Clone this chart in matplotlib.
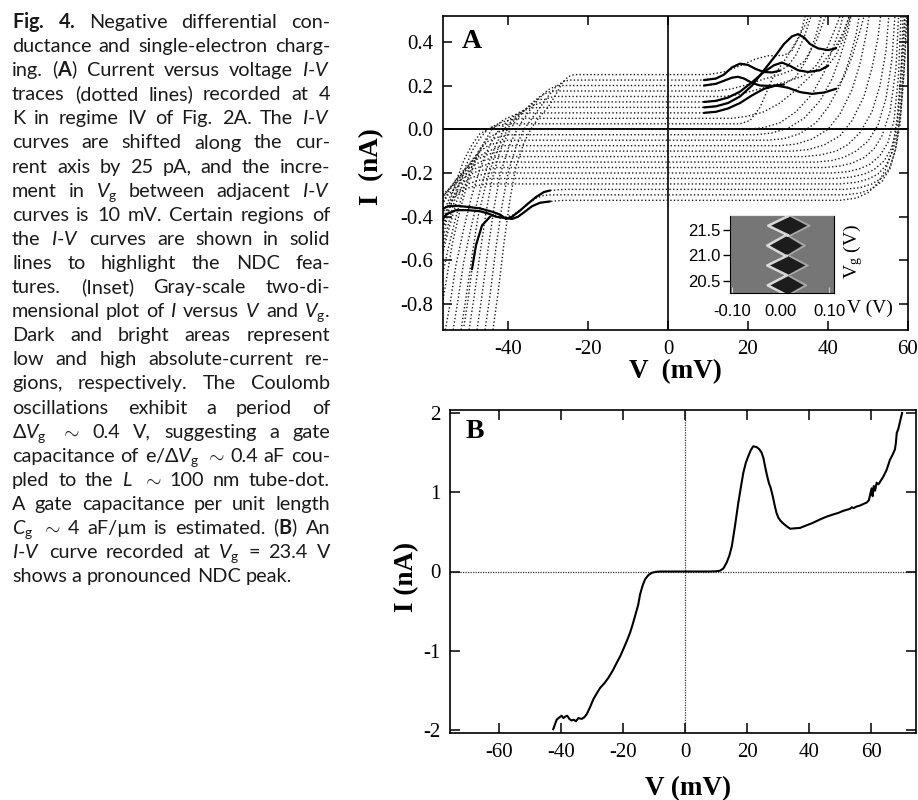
import matplotlib
matplotlib.use("Agg")
import matplotlib.pyplot as plt
from matplotlib.patches import Polygon

W, H = 918, 800

plt.rcParams['font.family'] = ['Lato', 'DejaVu Sans']
plt.rcParams['mathtext.fontset'] = 'custom'
plt.rcParams['mathtext.rm'] = 'Lato'
plt.rcParams['mathtext.it'] = 'Lato:italic'
plt.rcParams['mathtext.bf'] = 'Lato:bold'
plt.rcParams['mathtext.sf'] = 'Liberation Serif'

SERIF = 'Liberation Serif'

# ---------------- caption ----------------
# words are split on single spaces, so the math parts contain no spaces
caption_lines = [
    r"$\mathbf{Fig.}$ $\mathbf{4.}$ Negative differential con-",
    r"ductance and single-electron charg-",
    r"ing. ($\mathbf{A}$) Current versus voltage $I$-$V$",
    r"traces (dotted lines) recorded at 4",
    r"K in regime IV of Fig. 2A. The $I$-$V$",
    r"curves are shifted along the cur-",
    r"rent axis by 25 pA, and the incre-",
    r"ment in $V_{\mathrm{g}}$ between adjacent $I$-$V$",
    r"curves is 10 mV. Certain regions of",
    r"the $I$-$V$ curves are shown in solid",
    r"lines to highlight the NDC fea-",
    r"tures. (Inset) Gray-scale two-di-",
    r"mensional plot of $I$ versus $V$ and $V_{\mathrm{g}}$.",
    r"Dark and bright areas represent",
    r"low and high absolute-current re-",
    r"gions, respectively. The Coulomb",
    r"oscillations exhibit a period of",
    r"$\Delta{V}_{\mathrm{g}}$ $\sim$ 0.4 V, suggesting a gate",
    r"capacitance of e/$\Delta{V}_{\mathrm{g}}$ $\sim$ 0.4 aF cou-",
    r"pled to the $L$ $\sim$ 100 nm tube-dot.",
    r"A gate capacitance per unit length",
    r"$C_{\mathrm{g}}$ $\sim$ 4 aF/µm is estimated. ($\mathbf{B}$) An",
    r"$I$-$V$ curve recorded at $V_{\mathrm{g}}$ = 23.4 V",
    r"shows a pronounced NDC peak.",
]

# ---------------- panel A: I-V traces (offset by 25 pA) ----------------
a_offsets = [0.25, 0.225, 0.2, 0.175, 0.15, 0.125, 0.1, 0.075, 0.05, 0.025,
             0.0, -0.025, -0.05, -0.075, -0.1, -0.125, -0.15, -0.175, -0.2,
             -0.225, -0.25, -0.275, -0.3, -0.325]

# (V, I) points left of the blockade plateau, ending at the plateau knee
a_left = [
    [(-44, -0.95), (-42.5, -0.75), (-41, -0.52), (-39.5, -0.32), (-38, -0.17), (-36, -0.06), (-34, 0.01), (-32, 0.06), (-30, 0.1), (-28, 0.16), (-26.5, 0.21), (-25, 0.24), (-23.5, 0.25)],
    [(-46, -0.95), (-44.5, -0.76), (-43, -0.54), (-41.5, -0.35), (-40, -0.2), (-38, -0.08), (-36, 0.0), (-34, 0.05), (-32, 0.1), (-30, 0.15), (-28, 0.195), (-26, 0.22), (-24.5, 0.225)],
    [(-48, -0.95), (-46.5, -0.76), (-45, -0.55), (-43.5, -0.36), (-42, -0.21), (-40, -0.09), (-38, -0.01), (-36, 0.05), (-34, 0.1), (-32, 0.145), (-30, 0.18), (-28, 0.198), (-26, 0.2)],
    [(-50, -0.95), (-48.5, -0.77), (-47, -0.57), (-45.5, -0.38), (-44, -0.23), (-42, -0.1), (-40, -0.02), (-38, 0.04), (-36, 0.085), (-34, 0.12), (-32, 0.15), (-30, 0.17), (-28, 0.175)],
    [(-52, -0.95), (-50.5, -0.77), (-49, -0.58), (-47.5, -0.4), (-45.5, -0.25), (-43.5, -0.13), (-41.5, -0.05), (-39.5, 0.02), (-37, 0.07), (-34, 0.115), (-32.5, 0.138), (-31, 0.135), (-29.5, 0.145), (-28.5, 0.15)],
    [(-54, -0.95), (-52.5, -0.78), (-51, -0.6), (-49, -0.43), (-47, -0.28), (-45, -0.16), (-43, -0.07), (-41, 0.0), (-38, 0.06), (-35, 0.1), (-32, 0.12), (-30, 0.125)],
    [(-56, -0.95), (-54.5, -0.8), (-53, -0.62), (-51, -0.45), (-49, -0.3), (-47, -0.18), (-45, -0.09), (-43, -0.02), (-40, 0.04), (-37, 0.08), (-34, 0.098), (-31, 0.1)],
    [(-57, -0.86), (-55.5, -0.7), (-54, -0.53), (-52, -0.37), (-50, -0.24), (-48, -0.14), (-46, -0.06), (-44, 0.0), (-41, 0.045), (-38, 0.068), (-35, 0.075)],
    [(-57, -0.6), (-55, -0.44), (-53, -0.3), (-51, -0.19), (-49, -0.1), (-47, -0.04), (-45, 0.0), (-42, 0.03), (-39, 0.045), (-36, 0.05)],
    [(-57, -0.5), (-55, -0.36), (-53, -0.24), (-51, -0.14), (-49, -0.07), (-47, -0.02), (-44, 0.01), (-41, 0.022), (-38, 0.025)],
    [(-57, -0.72), (-55, -0.55), (-53, -0.4), (-51, -0.27), (-49, -0.17), (-47, -0.09), (-45, -0.04), (-42, -0.01), (-39, 0.0)],
    [(-57, -0.62), (-55, -0.47), (-53, -0.34), (-51, -0.23), (-49, -0.15), (-47, -0.09), (-45, -0.055), (-42, -0.033), (-40, -0.025)],
    [(-57, -0.5), (-55, -0.38), (-53, -0.28), (-51, -0.2), (-49, -0.14), (-47, -0.1), (-45, -0.075), (-42, -0.057), (-40, -0.05)],
    [(-57, -0.42), (-55, -0.33), (-53, -0.25), (-51, -0.19), (-49, -0.145), (-46, -0.11), (-43, -0.085), (-41, -0.075)],
    [(-57, -0.36), (-55, -0.29), (-53, -0.23), (-51, -0.185), (-48, -0.14), (-45, -0.115), (-42, -0.1)],
    [(-57, -0.33), (-55, -0.28), (-53, -0.23), (-50, -0.18), (-47, -0.15), (-44, -0.13), (-42, -0.125)],
    [(-57, -0.32), (-55, -0.28), (-52, -0.22), (-49, -0.185), (-46, -0.165), (-43, -0.15)],
    [(-57, -0.31), (-54, -0.26), (-51, -0.22), (-48, -0.195), (-45, -0.18), (-43, -0.175)],
    [(-57, -0.36), (-55, -0.3), (-52, -0.25), (-49, -0.22), (-46, -0.205), (-44, -0.2)],
    [(-57, -0.45), (-55, -0.35), (-53, -0.29), (-50, -0.25), (-47, -0.232), (-45, -0.225)],
    [(-57, -0.62), (-56, -0.48), (-55, -0.38), (-53.5, -0.31), (-51, -0.275), (-48, -0.258), (-45, -0.25)],
    [(-57, -0.37), (-55, -0.352), (-53, -0.35), (-50, -0.355), (-47, -0.362), (-44, -0.377), (-42, -0.39), (-40.5, -0.41), (-39, -0.4), (-37, -0.372), (-35, -0.34), (-33, -0.31), (-31, -0.287), (-29.5, -0.28), (-27, -0.276), (-25, -0.275)],
    [(-51, -0.9), (-50, -0.78), (-49, -0.64), (-48, -0.53), (-46.5, -0.44), (-44.5, -0.4), (-42.5, -0.39), (-40.5, -0.4), (-39, -0.395), (-37, -0.37), (-35, -0.34), (-33, -0.315), (-31, -0.302), (-29, -0.3)],
    [(-57, -0.45), (-56, -0.4), (-55, -0.385), (-53, -0.37), (-50, -0.37), (-47, -0.375), (-45, -0.385), (-43, -0.4), (-41, -0.405), (-39, -0.41), (-37.5, -0.4), (-36, -0.38), (-34, -0.352), (-32, -0.336), (-29.5, -0.33), (-27, -0.326), (-25, -0.325)],
]

# (V, I) points right of the plateau, starting at the plateau knee
a_right = [
    [(10, 0.25), (14, 0.262), (18, 0.29), (22, 0.322), (25, 0.336), (29, 0.338), (31, 0.36), (33, 0.43), (34.5, 0.53)],
    [(9, 0.225), (12, 0.232), (14, 0.25), (16, 0.283), (18, 0.3), (20, 0.294), (22, 0.275), (24, 0.262), (26, 0.26), (28, 0.268), (30, 0.29), (32, 0.34), (34, 0.42), (36, 0.53)],
    [(9, 0.2), (12, 0.208), (14, 0.222), (16, 0.236), (17.5, 0.24), (19, 0.232), (21, 0.212), (23, 0.2), (26, 0.198), (29, 0.205), (32, 0.24), (35, 0.33), (37, 0.43), (38.5, 0.53)],
    [(12, 0.175), (16, 0.185), (20, 0.205), (24, 0.23), (28, 0.25), (31, 0.27), (34, 0.31), (37, 0.4), (39, 0.5), (40, 0.54)],
    [(14, 0.15), (18, 0.16), (22, 0.18), (26, 0.2), (30, 0.22), (34, 0.245), (37, 0.29), (40, 0.38), (42, 0.47), (43.5, 0.54)],
    [(9, 0.125), (12, 0.13), (15, 0.145), (18, 0.172), (21, 0.215), (24, 0.262), (26.5, 0.293), (28.5, 0.305), (30.5, 0.29), (32.5, 0.27), (35, 0.262), (38, 0.27), (40, 0.29), (42, 0.34), (44, 0.42), (46, 0.54)],
    [(9, 0.1), (12, 0.105), (15, 0.12), (18, 0.15), (21, 0.2), (24, 0.27), (27, 0.34), (29, 0.39), (31, 0.425), (32.5, 0.435), (34, 0.42), (35.5, 0.39), (37.5, 0.37), (40, 0.362), (42, 0.37), (43.5, 0.42), (45, 0.5), (46, 0.55)],
    [(9, 0.075), (12, 0.08), (15, 0.095), (18, 0.12), (21, 0.155), (24, 0.185), (27, 0.2), (30, 0.19), (33, 0.17), (36, 0.162), (39, 0.168), (42, 0.185), (44, 0.24), (46, 0.33), (48, 0.45), (49.5, 0.55)],
    [(16, 0.05), (20, 0.06), (24, 0.08), (28, 0.12), (32, 0.18), (36, 0.25), (39, 0.31), (42, 0.38), (44, 0.45), (46, 0.55)],
    [(18, 0.025), (20.5, 0.04), (23, 0.1), (26.3, 0.24), (29.7, 0.33), (32, 0.4), (34.7, 0.49), (35.5, 0.55)],
    [(20, 0.0), (24, 0.008), (28, 0.03), (32, 0.08), (36, 0.16), (39, 0.26), (41, 0.36), (43, 0.46), (44, 0.54)],
    [(22, -0.025), (26, -0.017), (30, 0.005), (34, 0.05), (38, 0.13), (41, 0.23), (43, 0.33), (45, 0.45), (46, 0.54)],
    [(25, -0.05), (29, -0.043), (33, -0.02), (37, 0.03), (40, 0.1), (43, 0.2), (45, 0.3), (47, 0.43), (48, 0.54)],
    [(28, -0.075), (32, -0.068), (36, -0.045), (40, 0.0), (43, 0.07), (46, 0.18), (48, 0.3), (49.5, 0.43), (50.5, 0.54)],
    [(31, -0.1), (35, -0.093), (39, -0.072), (43, -0.03), (46, 0.04), (49, 0.15), (51, 0.28), (52.5, 0.42), (53.3, 0.54)],
    [(34, -0.125), (38, -0.118), (42, -0.1), (45, -0.07), (48, -0.015), (51, 0.08), (53, 0.2), (54.5, 0.36), (55.3, 0.54)],
    [(37, -0.15), (41, -0.143), (44, -0.128), (47, -0.1), (50, -0.055), (52.5, 0.02), (54.5, 0.14), (56, 0.32), (56.8, 0.54)],
    [(39, -0.175), (43, -0.168), (46, -0.155), (49, -0.13), (51.5, -0.09), (53.5, -0.03), (55.5, 0.08), (57, 0.28), (57.7, 0.54)],
    [(41, -0.2), (45, -0.194), (48, -0.18), (50.5, -0.16), (53, -0.12), (55, -0.06), (56.5, 0.04), (57.6, 0.24), (58.3, 0.54)],
    [(42, -0.225), (46, -0.218), (49, -0.205), (51.5, -0.185), (54, -0.145), (55.8, -0.09), (57.2, 0.0), (58.2, 0.22), (58.8, 0.54)],
    [(43, -0.25), (47, -0.243), (50, -0.228), (52.5, -0.205), (54.5, -0.165), (56.2, -0.1), (57.6, 0.0), (58.6, 0.22), (59.2, 0.54)],
    [(44, -0.275), (48, -0.267), (51, -0.25), (53.5, -0.222), (55.3, -0.18), (56.8, -0.1), (58, 0.02), (59, 0.25), (59.6, 0.54)],
    [(44, -0.3), (48, -0.292), (51, -0.272), (53.5, -0.238), (55.5, -0.18), (57, -0.08), (58.2, 0.08), (59.2, 0.32), (59.8, 0.54)],
    [(43, -0.325), (47, -0.315), (50, -0.29), (52.5, -0.245), (54.5, -0.18), (56, -0.1), (57.3, 0.05), (58.4, 0.3), (59.3, 0.54)],
]

# V ranges drawn as solid lines (NDC features), per trace index
a_solid = {1: [(9, 28)], 2: [(9, 29)], 5: [(9, 40)], 6: [(9, 42)], 7: [(9, 42)],
           21: [(-57, -29.5)], 22: [(-49, -44.5)], 23: [(-57, -29.5)]}

a_xticks = [-40, -20, 0, 20, 40, 60]
a_xtick_labels = ['-40', '-20', '0', '20', '40', '60']
a_yticks = [0.4, 0.2, 0.0, -0.2, -0.4, -0.6, -0.8]
a_ytick_labels = ['0.4', '0.2', '0.0', '-0.2', '-0.4', '-0.6', '-0.8']

# ---------------- inset: Coulomb diamonds ----------------
inset_v_ticks = [-0.10, 0.00, 0.10]
inset_v_labels = ['-0.10', '0.00', '0.10']
inset_vg_ticks = [20.5, 21.0, 21.5]
inset_vg_labels = ['20.5', '21.0', '21.5']
diamond_vg = [21.96, 21.58, 21.19, 20.80, 20.41]
diamond_v = [0.014, 0.016, 0.010, 0.013, 0.012]
diamond_halfw = [0.036, 0.038, 0.034, 0.037, 0.035]
diamond_halfh = [0.19, 0.19, 0.2, 0.19, 0.19]

# ---------------- panel B: single I-V trace at Vg = 23.4 V ----------------
b_v = [-42.5, -41.4, -40.5, -39.8, -39.2, -38.6, -38.0, -37.3, -36.6, -35.9, -35.2, -34.4,
       -33.3, -32.5, -31.7, -30.6, -29.6, -28.5, -27.4, -26.0, -24.7, -23.3, -22.0,
       -20.9, -19.9, -18.8, -17.7, -16.9, -16.1, -15.1, -14.5, -13.7, -12.9, -11.8,
       -10.7, -9.5, -8.1, -4.0, 0.0, 4.0, 8.0, 10.0, 11.3, 12.4, 13.4, 14.3, 15.1, 16.1,
       17.2, 18.0, 18.8, 19.6, 20.4, 21.2, 22.0, 23.1, 23.9, 24.7, 25.3, 25.8, 26.4, 26.9,
       27.2, 27.6, 28.3, 29.0, 29.5, 30.1, 30.8, 31.7, 32.8, 33.9, 35.5, 37.1, 39.0,
       41.0, 43.5, 45.5, 47.8, 49.5, 51.0, 52.3, 53.2, 53.8, 54.4, 55.3, 56.3, 57.4,
       58.6, 59.3, 59.7, 60.2, 60.5, 60.9, 61.3, 61.8, 62.4, 63.2, 64.0, 65.0, 66.1,
       66.9, 67.7, 68.0, 68.3, 68.8, 69.4, 70.0]
b_i = [-1.99, -1.87, -1.84, -1.82, -1.85, -1.83, -1.82, -1.86, -1.88, -1.87, -1.89, -1.85,
       -1.86, -1.84, -1.80, -1.71, -1.615, -1.54, -1.47, -1.41, -1.34, -1.25, -1.15,
       -1.07, -0.98, -0.88, -0.77, -0.67, -0.56, -0.42, -0.29, -0.18, -0.10, -0.045,
       -0.017, -0.005, 0.0, 0.0, 0.0, 0.0, 0.0, 0.003, 0.01, 0.04, 0.11, 0.2, 0.32, 0.57,
       0.87, 1.06, 1.245, 1.37, 1.455, 1.53, 1.58, 1.57, 1.545, 1.50, 1.43, 1.33, 1.22,
       1.14, 1.10, 1.06, 0.95, 0.82, 0.74, 0.68, 0.64, 0.605, 0.57, 0.54, 0.545, 0.55,
       0.58, 0.61, 0.656, 0.69, 0.72, 0.74, 0.765, 0.78, 0.79, 0.81, 0.80, 0.82, 0.83,
       0.85, 0.87, 0.90, 0.97, 1.05, 0.95, 1.08, 1.02, 1.12, 1.10, 1.15, 1.20, 1.28,
       1.41, 1.47, 1.54, 1.62, 1.75, 1.80, 1.90, 2.0]

b_xticks = [-60, -40, -20, 0, 20, 40, 60]
b_xtick_labels = ['-60', '-40', '-20', '0', '20', '40', '60']
b_yticks = [-2, -1, 0, 1, 2]
b_ytick_labels = ['-2', '-1', '0', '1', '2']


def fx(x):
    return x / W


def fy(y):
    return 1 - y / H


fig = plt.figure(figsize=(W / 100, H / 100), dpi=100)
fig.patch.set_facecolor('white')

# ---- caption, justified between x=12 and x=330 px ----
renderer = fig.canvas.get_renderer()
x_left, x_right = 12, 330
for i, line in enumerate(caption_lines):
    words = line.split(' ')
    y = fy(28 + 24.1 * i)
    texts = [fig.text(0, y, w, fontsize=14.3, va='baseline', ha='left', color='#1a1a1a')
             for w in words]
    widths = [t.get_window_extent(renderer=renderer).width for t in texts]
    if i == len(caption_lines) - 1:
        gap = 5
    else:
        gap = max((x_right - x_left - sum(widths)) / (len(words) - 1), 3)
    x = x_left
    for t, wd in zip(texts, widths):
        t.set_x(fx(x))
        x += wd + gap


def style_axes(ax, length):
    for s in ax.spines.values():
        s.set_linewidth(1.2)
    ax.tick_params(direction='in', top=True, right=True, length=length, width=1.1, pad=7)


# ---- panel A ----
axA = fig.add_axes([fx(443), fy(330), (908 - 443) / W, (330 - 16) / H])
axA.set_xlim(-56.25, 60)
axA.set_ylim(-0.918, 0.518)
axA.axhline(0, color='black', lw=1.4, zorder=1)
axA.axvline(0, color='black', lw=1.2, zorder=1)
for k, off in enumerate(a_offsets):
    pts = a_left[k] + a_right[k]
    vs = [p[0] for p in pts]
    cs = [p[1] for p in pts]
    axA.plot(vs, cs, color='#1a1a1a', lw=1.0, linestyle=(0, (1, 1.6)), zorder=2)
    for lo, hi in a_solid.get(k, []):
        sv = [p[0] for p in pts if lo <= p[0] <= hi]
        sc = [p[1] for p in pts if lo <= p[0] <= hi]
        axA.plot(sv, sc, color='black', lw=1.6, solid_capstyle='round', zorder=3)
style_axes(axA, 6.5)
axA.set_xticks(a_xticks)
axA.set_xticklabels(a_xtick_labels, fontfamily=SERIF, fontsize=15)
axA.set_yticks(a_yticks)
axA.set_yticklabels(a_ytick_labels, fontfamily=SERIF, fontsize=15)
fig.text(fx(472), fy(42), 'A', fontfamily=SERIF, fontweight='bold', fontsize=20,
         ha='center', va='center')
fig.text(fx(372), fy(167), 'I  (nA)', fontfamily=SERIF, fontweight='bold', fontsize=19.5,
         rotation=90, ha='center', va='center')
fig.text(fx(675), fy(372), 'V  (mV)', fontfamily=SERIF, fontweight='bold', fontsize=19.5,
         ha='center', va='center')

# ---- inset ----
axI = fig.add_axes([fx(730), fy(293), 104 / W, 78 / H])
axI.set_facecolor('#767676')
axI.set_xlim(-0.105, 0.11)
axI.set_ylim(20.26, 21.79)
edge_v, edge_g = [], []
for vg, v0, hw, hh in zip(diamond_vg, diamond_v, diamond_halfw, diamond_halfh):
    axI.add_patch(Polygon([(v0 - hw, vg), (v0, vg + hh), (v0 + hw, vg), (v0, vg - hh)],
                          closed=True, facecolor='#1c1c1c', edgecolor='none', zorder=2))
    axI.plot([v0 + 0.004, v0 + hw + 0.006, v0 + 0.004],
             [vg + hh, vg, vg - hh], color='#a8a8a8', lw=1.2, zorder=1)
    edge_v += [v0, v0 - hw - 0.004, v0]
    edge_g += [vg + hh, vg, vg - hh]
axI.plot(edge_v, edge_g, color='#eeeeee', lw=1.8, alpha=0.85, zorder=3)
for s in axI.spines.values():
    s.set_linewidth(0.8)
axI.spines['top'].set_color('#e8e8e8')
axI.set_xticks(inset_v_ticks)
axI.set_xticklabels(inset_v_labels, fontfamily='Liberation Sans', fontsize=12)
axI.set_yticks(inset_vg_ticks)
axI.set_yticklabels(inset_vg_labels, fontfamily='Liberation Sans', fontsize=12)
axI.tick_params(axis='x', direction='in', length=4, color='#d0d0d0', pad=8)
axI.tick_params(axis='y', direction='out', length=5, width=1.0, pad=2)
fig.text(fx(870), fy(308), 'V (V)', fontfamily=SERIF, fontsize=14, ha='center', va='center')
fig.text(fx(853), fy(252), r'$\mathsf{V_g\ (V)}$', fontsize=14, rotation=90,
         ha='center', va='center')

# ---- panel B ----
axB = fig.add_axes([fx(450), fy(733), (916 - 450) / W, (733 - 410) / H])
axB.set_xlim(-75.8, 74.5)
axB.set_ylim(-2.038, 2.038)
axB.axhline(0, color='#333333', lw=0.9, linestyle=(0, (1, 1)), zorder=1)
axB.axvline(0, color='#333333', lw=0.9, linestyle=(0, (1, 1)), zorder=1)
axB.plot(b_v, b_i, color='black', lw=1.5, zorder=3)
style_axes(axB, 7)
axB.set_xticks(b_xticks)
axB.set_xticklabels(b_xtick_labels, fontfamily=SERIF, fontsize=15)
axB.set_yticks(b_yticks)
axB.set_yticklabels(b_ytick_labels, fontfamily=SERIF, fontsize=15)
fig.text(fx(475), fy(432), 'B', fontfamily=SERIF, fontweight='bold', fontsize=20,
         ha='center', va='center')
fig.text(fx(407), fy(577), 'I (nA)', fontfamily=SERIF, fontweight='bold', fontsize=19.5,
         rotation=90, ha='center', va='center')
fig.text(fx(688), fy(789), 'V (mV)', fontfamily=SERIF, fontweight='bold', fontsize=19.5,
         ha='center', va='center')

fig.savefig('out.png', dpi=100)
